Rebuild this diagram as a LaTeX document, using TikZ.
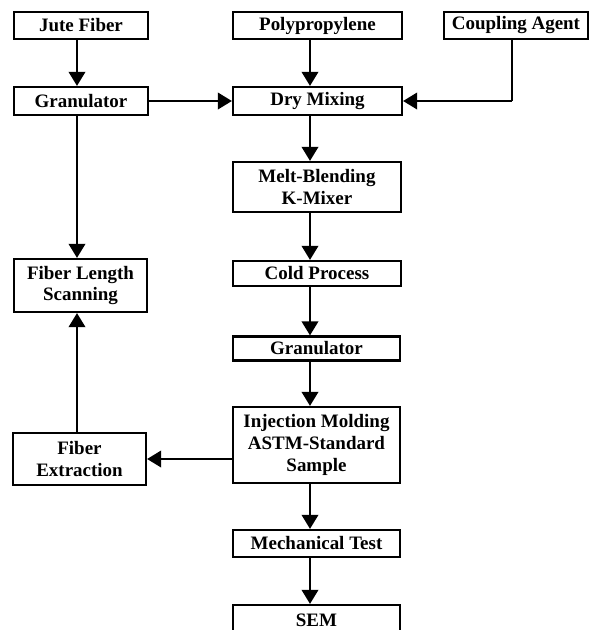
\documentclass[tikz,border=0pt]{standalone}
\usepackage{fontspec}
\setmainfont{Liberation Serif}
\usetikzlibrary{arrows.meta}

\begin{document}
\begin{tikzpicture}[x=0.02cm, y=-0.02cm,
  stage/.style={rectangle, draw=black, line width=1.3pt, inner sep=0pt, align=center,
    font=\fontsize{10.8}{12.5}\selectfont\bfseries},
  flow/.style={line width=1pt, -{Triangle[width=9.5pt, length=8pt]}}]

\clip (0, 0) rectangle (593, 630);

\node[stage, minimum width=2.68cm, minimum height=0.54cm] (jute) at (81, 25.5) {Jute Fiber};
\node[stage, minimum width=3.38cm, minimum height=0.54cm] (pp) at (317.5, 25.5) {Polypropylene};
\node[stage, minimum width=2.88cm, minimum height=0.54cm] (agent) at (516, 25.5) {Coupling Agent};

\node[stage, minimum width=2.68cm, minimum height=0.56cm] (granleft) at (81, 101) {Granulator};
\node[stage, minimum width=3.38cm, minimum height=0.56cm] (dry) at (317.5, 101) {Dry Mixing};
\node[stage, minimum width=3.36cm, minimum height=1.0cm] (melt) at (317, 187) {Melt-Blending\\K-Mixer};
\node[stage, minimum width=3.36cm, minimum height=0.5cm] (cold) at (317, 273.5) {Cold Process};
\node[stage, minimum width=3.34cm, minimum height=0.48cm] (granmid) at (316.5, 348.5) {Granulator};
\node[stage, minimum width=3.34cm, minimum height=1.52cm] (inject) at (316.5, 445) {Injection Molding\\ASTM-Standard\\Sample};
\node[stage, minimum width=3.34cm, minimum height=0.54cm] (mech) at (316.5, 543.5) {Mechanical Test};
\node[stage, minimum width=3.34cm, minimum height=0.6cm] (sem) at (316.5, 620) {SEM};

\node[stage, minimum width=2.66cm, minimum height=1.06cm] (scan) at (80.5, 285.5) {Fiber Length\\Scanning};
\node[stage, minimum width=2.66cm, minimum height=1.04cm] (extract) at (79.5, 459) {Fiber\\Extraction};

\coordinate (left) at (77, 0);
\coordinate (mid) at (310, 0);
\coordinate (bend) at (512, 101);

\draw[flow] (jute.south -| left) -- (granleft.north -| left);
\draw[flow] (pp.south -| mid) -- (dry.north -| mid);
\draw[flow] (granleft) -- (dry);
\draw[line width=1pt] (agent.south -| bend) -- (bend);
\draw[flow] (bend) -- (dry.east);

\draw[flow] (dry.south -| mid) -- (melt.north -| mid);
\draw[flow] (melt.south -| mid) -- (cold.north -| mid);
\draw[flow] (cold.south -| mid) -- (granmid.north -| mid);
\draw[flow] (granmid.south -| mid) -- (inject.north -| mid);
\draw[flow] (inject.south -| mid) -- (mech.north -| mid);
\draw[flow] (mech.south -| mid) -- (sem.north -| mid);

\draw[flow] (granleft.south -| left) -- (scan.north -| left);
\draw[flow] (inject.west |- extract) -- (extract.east);
\draw[flow] (extract.north -| left) -- (scan.south -| left);

\end{tikzpicture}
\end{document}
